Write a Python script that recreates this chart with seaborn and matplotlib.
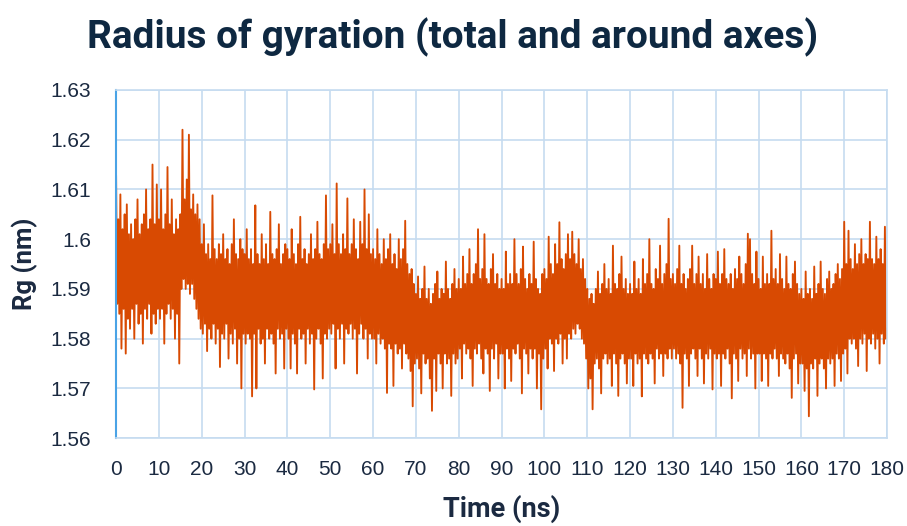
import numpy as np
import pandas as pd
import matplotlib
matplotlib.use("Agg")
import matplotlib.pyplot as plt
import seaborn as sns

# Rg (nm) every 0.25 ns, two lines per 10 ns
rg_nm = [
    # 0-10 ns
    1.6128, 1.5870, 1.6040, 1.5850, 1.6090, 1.5780, 1.6020, 1.5860, 1.6050, 1.5770,
    1.6070, 1.5840, 1.6010, 1.5820, 1.6030, 1.5860, 1.6000, 1.5800, 1.6040, 1.5870,
    1.6080, 1.5830, 1.6010, 1.5850, 1.6030, 1.5790, 1.6050, 1.5860, 1.6100, 1.5840,
    1.6020, 1.5870, 1.6040, 1.5810, 1.6150, 1.5850, 1.6030, 1.5830, 1.6110, 1.5860,
    # 10-20 ns
    1.6040, 1.5840, 1.6100, 1.5860, 1.6020, 1.5790, 1.6050, 1.5850, 1.6145, 1.5870,
    1.6030, 1.5840, 1.6080, 1.5860, 1.6010, 1.5800, 1.6040, 1.5850, 1.6020, 1.5750,
    1.6050, 1.5900, 1.6220, 1.5920, 1.6080, 1.5900, 1.6120, 1.5910, 1.6210, 1.5890,
    1.6060, 1.5910, 1.6090, 1.5880, 1.6050, 1.5860, 1.6070, 1.5840, 1.6040, 1.5820,
    # 20-30 ns
    1.5990, 1.5810, 1.6030, 1.5830, 1.5970, 1.5775, 1.5990, 1.5820, 1.5960, 1.5800,
    1.6088, 1.5830, 1.5980, 1.5790, 1.5960, 1.5820, 1.5990, 1.5743, 1.5970, 1.5810,
    1.6010, 1.5800, 1.5960, 1.5830, 1.5980, 1.5760, 1.5950, 1.5810, 1.5990, 1.5790,
    1.6040, 1.5820, 1.5970, 1.5750, 1.5960, 1.5800, 1.6000, 1.5700, 1.5980, 1.5810,
    # 30-40 ns
    1.5970, 1.5790, 1.6020, 1.5810, 1.5960, 1.5800, 1.5980, 1.5684, 1.5950, 1.5810,
    1.6068, 1.5700, 1.5970, 1.5820, 1.5950, 1.5790, 1.6010, 1.5800, 1.5960, 1.5750,
    1.5990, 1.5820, 1.5950, 1.5800, 1.6055, 1.5810, 1.5970, 1.5790, 1.5960, 1.5730,
    1.5980, 1.5820, 1.6030, 1.5800, 1.5950, 1.5810, 1.5970, 1.5740, 1.5990, 1.5820,
    # 40-50 ns
    1.5980, 1.5800, 1.5960, 1.5740, 1.6020, 1.5810, 1.5970, 1.5790, 1.5950, 1.5730,
    1.5990, 1.5820, 1.6045, 1.5800, 1.5960, 1.5810, 1.5980, 1.5750, 1.5950, 1.5820,
    1.5970, 1.5790, 1.6010, 1.5810, 1.5960, 1.5698, 1.5980, 1.5800, 1.6035, 1.5820,
    1.5970, 1.5790, 1.5960, 1.5720, 1.5990, 1.5810, 1.6088, 1.5800, 1.5980, 1.5820,
    # 50-60 ns
    1.5990, 1.5810, 1.6030, 1.5830, 1.5970, 1.5740, 1.6112, 1.5820, 1.5990, 1.5800,
    1.5970, 1.5830, 1.6010, 1.5750, 1.5980, 1.5820, 1.6082, 1.5810, 1.5970, 1.5830,
    1.5990, 1.5800, 1.6040, 1.5820, 1.5980, 1.5730, 1.5960, 1.5810, 1.6035, 1.5830,
    1.5990, 1.5800, 1.6100, 1.5820, 1.5980, 1.5760, 1.6050, 1.5810, 1.5970, 1.5800,
    # 60-70 ns
    1.5980, 1.5800, 1.5960, 1.5750, 1.6020, 1.5810, 1.5970, 1.5790, 1.5950, 1.5800,
    1.6000, 1.5780, 1.5960, 1.5691, 1.5980, 1.5790, 1.6010, 1.5780, 1.5950, 1.5705,
    1.5970, 1.5790, 1.5940, 1.5770, 1.6000, 1.5780, 1.5960, 1.5740, 1.5980, 1.5790,
    1.6037, 1.5770, 1.5950, 1.5760, 1.5930, 1.5735, 1.5940, 1.5664, 1.5910, 1.5750,
    # 70-80 ns
    1.5890, 1.5760, 1.5925, 1.5740, 1.5880, 1.5690, 1.5900, 1.5770, 1.5945, 1.5750,
    1.5880, 1.5760, 1.5900, 1.5720, 1.5870, 1.5655, 1.5890, 1.5760, 1.5910, 1.5695,
    1.5935, 1.5770, 1.5880, 1.5750, 1.5900, 1.5700, 1.5890, 1.5770, 1.5955, 1.5750,
    1.5900, 1.5760, 1.5880, 1.5685, 1.5910, 1.5770, 1.5940, 1.5750, 1.5900, 1.5760,
    # 80-90 ns
    1.5920, 1.5780, 1.5900, 1.5720, 1.5965, 1.5790, 1.5910, 1.5770, 1.5930, 1.5780,
    1.5980, 1.5760, 1.5910, 1.5705, 1.5930, 1.5780, 1.5950, 1.5770, 1.6020, 1.5790,
    1.5920, 1.5760, 1.5940, 1.5730, 1.6010, 1.5780, 1.5920, 1.5770, 1.5910, 1.5695,
    1.5940, 1.5780, 1.5970, 1.5760, 1.5910, 1.5790, 1.5930, 1.5720, 1.5900, 1.5770,
    # 90-100 ns
    1.5920, 1.5770, 1.5900, 1.5700, 1.5975, 1.5780, 1.5910, 1.5760, 1.5930, 1.5715,
    1.5910, 1.5780, 1.6000, 1.5770, 1.5930, 1.5790, 1.5910, 1.5760, 1.5940, 1.5690,
    1.5985, 1.5780, 1.5920, 1.5770, 1.5900, 1.5730, 1.5930, 1.5780, 1.5910, 1.5760,
    1.5995, 1.5780, 1.5920, 1.5700, 1.5900, 1.5770, 1.5890, 1.5658, 1.5930, 1.5760,
    # 100-110 ns
    1.5940, 1.5780, 1.5920, 1.5740, 1.6005, 1.5800, 1.5950, 1.5790, 1.5930, 1.5735,
    1.5990, 1.5800, 1.5950, 1.5790, 1.6034, 1.5810, 1.5960, 1.5750, 1.5940, 1.5800,
    1.5970, 1.5760, 1.6010, 1.5810, 1.5960, 1.5800, 1.6015, 1.5820, 1.5970, 1.5810,
    1.5950, 1.5830, 1.6000, 1.5820, 1.5940, 1.5800, 1.5960, 1.5790, 1.5920, 1.5760,
    # 110-120 ns
    1.5900, 1.5700, 1.5880, 1.5720, 1.5890, 1.5658, 1.5870, 1.5750, 1.5900, 1.5760,
    1.5935, 1.5740, 1.5890, 1.5690, 1.5910, 1.5760, 1.5950, 1.5770, 1.5900, 1.5750,
    1.5920, 1.5760, 1.5890, 1.5705, 1.5987, 1.5770, 1.5910, 1.5750, 1.5900, 1.5685,
    1.5930, 1.5760, 1.5965, 1.5770, 1.5900, 1.5750, 1.5920, 1.5710, 1.5890, 1.5760,
    # 120-130 ns
    1.5910, 1.5760, 1.5890, 1.5705, 1.5955, 1.5770, 1.5900, 1.5750, 1.5920, 1.5760,
    1.5890, 1.5684, 1.5960, 1.5770, 1.5910, 1.5760, 1.5930, 1.5750, 1.6000, 1.5770,
    1.5910, 1.5760, 1.5900, 1.5710, 1.5940, 1.5780, 1.5920, 1.5760, 1.5987, 1.5770,
    1.5910, 1.5725, 1.5930, 1.5770, 1.5950, 1.5760, 1.6041, 1.5780, 1.5920, 1.5760,
    # 130-140 ns
    1.5930, 1.5780, 1.5910, 1.5760, 1.5940, 1.5770, 1.5987, 1.5750, 1.5910, 1.5661,
    1.5930, 1.5770, 1.5900, 1.5760, 1.5920, 1.5705, 1.5940, 1.5770, 1.5987, 1.5780,
    1.5910, 1.5760, 1.5930, 1.5725, 1.5965, 1.5780, 1.5910, 1.5760, 1.5930, 1.5710,
    1.5900, 1.5770, 1.5970, 1.5760, 1.5920, 1.5780, 1.5900, 1.5698, 1.5930, 1.5770,
    # 140-150 ns
    1.5920, 1.5760, 1.5975, 1.5770, 1.5910, 1.5705, 1.5930, 1.5770, 1.5980, 1.5760,
    1.5920, 1.5780, 1.5910, 1.5750, 1.5930, 1.5680, 1.5900, 1.5770, 1.5940, 1.5760,
    1.5920, 1.5715, 1.5965, 1.5780, 1.5930, 1.5760, 1.5910, 1.5770, 1.5950, 1.5725,
    1.6011, 1.5780, 1.6000, 1.5760, 1.5930, 1.5770, 1.5910, 1.5700, 1.5975, 1.5770,
    # 150-160 ns
    1.5920, 1.5770, 1.5900, 1.5715, 1.5965, 1.5770, 1.5910, 1.5760, 1.5930, 1.5705,
    1.5910, 1.5770, 1.6017, 1.5760, 1.5920, 1.5780, 1.5940, 1.5760, 1.5910, 1.5725,
    1.5970, 1.5770, 1.5920, 1.5760, 1.5900, 1.5750, 1.5965, 1.5770, 1.5910, 1.5740,
    1.5900, 1.5681, 1.5930, 1.5760, 1.5955, 1.5770, 1.5910, 1.5710, 1.5890, 1.5750,
    # 160-170 ns
    1.5900, 1.5750, 1.5880, 1.5695, 1.5935, 1.5740, 1.5890, 1.5644, 1.5900, 1.5750,
    1.5880, 1.5740, 1.5945, 1.5760, 1.5890, 1.5685, 1.5910, 1.5750, 1.5955, 1.5760,
    1.5900, 1.5740, 1.5890, 1.5700, 1.5920, 1.5760, 1.5935, 1.5750, 1.5900, 1.5760,
    1.5910, 1.5705, 1.5930, 1.5770, 1.5950, 1.5760, 1.5920, 1.5715, 1.5940, 1.5770,
    # 170-180 ns
    1.6035, 1.5780, 1.5950, 1.5730, 1.6017, 1.5800, 1.5960, 1.5790, 1.5940, 1.5800,
    1.5990, 1.5780, 1.5950, 1.5745, 1.5970, 1.5800, 1.6000, 1.5790, 1.5950, 1.5810,
    1.5970, 1.5735, 1.5960, 1.5800, 1.6035, 1.5790, 1.5960, 1.5810, 1.5950, 1.5780,
    1.6005, 1.5800, 1.5960, 1.5750, 1.5980, 1.5810, 1.5950, 1.5790, 1.6025, 1.5800,
    1.5820,
]
time_ns = np.arange(len(rg_nm)) * 0.25

x_ticks = list(range(0, 181, 10))
y_ticks = [1.56, 1.57, 1.58, 1.59, 1.60, 1.61, 1.62, 1.63]
y_tick_labels = ["1.56", "1.57", "1.58", "1.59", "1.6", "1.61", "1.62", "1.63"]

TITLE = "Radius of gyration (total and around axes)"
LINE_COLOR = "#d84a02"
GRID_COLOR = "#c6dcf0"
TEXT_COLOR = "#1b2a41"

sns.set_style("white")
plt.rcParams["font.family"] = ["Liberation Sans", "DejaVu Sans"]

df = pd.DataFrame({"time": time_ns, "rg": rg_nm})

fig = plt.figure(figsize=(9.07, 5.26), dpi=100)
ax = fig.add_axes([0.128, 0.167, 0.850, 0.662])

sns.lineplot(data=df, x="time", y="rg", ax=ax, color=LINE_COLOR,
             linewidth=1.35, estimator=None, sort=False)

ax.set_xlim(0, 180)
ax.set_ylim(1.56, 1.63)
ax.set_xticks(x_ticks)
ax.set_yticks(y_ticks)
ax.set_yticklabels(y_tick_labels)
ax.grid(True, color=GRID_COLOR, linewidth=1.2)
ax.set_axisbelow(True)
ax.tick_params(length=0, labelsize=15, labelcolor=TEXT_COLOR)
ax.tick_params(axis="x", pad=16)
ax.tick_params(axis="y", pad=18)

for side in ["top", "right", "bottom"]:
    ax.spines[side].set_color(GRID_COLOR)
    ax.spines[side].set_linewidth(1.2)
ax.spines["left"].set_color("#4aa3e6")
ax.spines["left"].set_linewidth(1.5)

bold = ["Roboto", "DejaVu Sans"]
ax.set_xlabel("Time (ns)", fontsize=19.5, fontweight="bold", color=TEXT_COLOR,
              family=bold, labelpad=11)
ax.set_ylabel("Rg (nm)", fontsize=18.5, fontweight="bold", color=TEXT_COLOR,
              family=bold, labelpad=9)
fig.text(0.499, 0.930, TITLE, ha="center", va="center", fontsize=28,
         fontweight="bold", color="#0e2841", family=bold)

fig.savefig("out.png", dpi=100)
